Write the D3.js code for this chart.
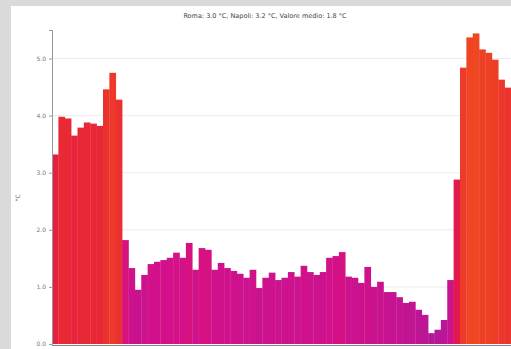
<!DOCTYPE html>
<html>
<head>
<meta charset="utf-8">
<script src="https://cdn.jsdelivr.net/npm/d3@7"></script>
<style>
  html, body { margin: 0; padding: 0; background: #dadada; }
  svg { display: block; }
</style>
</head>
<body>
<svg id="chart" width="511" height="349"></svg>
<script>
// Weekly temperature anomaly values (°C)
const weeks = d3.range(1, 73);
const values = [
  3.32, 3.98, 3.95, 3.65, 3.79, 3.88, 3.86, 3.82, 4.46, 4.75, 4.28,
  1.82, 1.33, 0.95, 1.21, 1.40, 1.44, 1.47, 1.51, 1.60, 1.51, 1.77,
  1.30, 1.68, 1.65, 1.30, 1.42, 1.33, 1.28, 1.23, 1.16, 1.30, 0.98,
  1.16, 1.25, 1.12, 1.16, 1.26, 1.18, 1.37, 1.26, 1.21, 1.26, 1.51,
  1.54, 1.61, 1.18, 1.16, 1.07, 1.35, 1.00, 1.09, 0.91, 0.91, 0.82,
  0.72, 0.74, 0.60, 0.51, 0.19, 0.25, 0.42, 1.12, 2.88,
  4.84, 5.37, 5.44, 5.16, 5.10, 4.98, 4.63, 4.49
];
const yTicks = [0, 1, 2, 3, 4, 5];
const titleText = "Roma: 3.0 °C, Napoli: 3.2 °C, Valore medio: 1.8 °C";
const yLabel = "°C";

const svg = d3.select("#chart");
const W = 511, H = 349;

// white panel
svg.append("rect").attr("x", 11).attr("y", 6).attr("width", W - 11).attr("height", H - 6).attr("fill", "#ffffff");

const margin = { left: 52, top: 30, right: 0, bottom: 5 };
const x = d3.scaleBand().domain(weeks).range([margin.left, W]).padding(0);
const y = d3.scaleLinear().domain([0, 5.5]).range([344, margin.top]);

const color = d3.scaleLinear()
  .domain([0, 1.5, 3, 4, 5.5])
  .range(["#b0189c", "#d4108a", "#e41a48", "#e92a34", "#ee4820"])
  .interpolate(d3.interpolateRgb)
  .clamp(true);

// gridlines
svg.append("g").selectAll("line").data(yTicks.slice(1)).join("line")
  .attr("x1", margin.left).attr("x2", W)
  .attr("y1", d => y(d)).attr("y2", d => y(d))
  .attr("stroke", "#ececec").attr("stroke-width", 1);

// bars
svg.append("g").selectAll("rect").data(values).join("rect")
  .attr("x", (d, i) => x(weeks[i]))
  .attr("width", x.bandwidth() + 0.3)
  .attr("y", d => y(d))
  .attr("height", d => y(0) - y(d))
  .attr("fill", d => color(d));

// y axis
const yAxis = d3.axisLeft(y).tickValues(yTicks).tickFormat(d3.format(".1f")).tickSize(3).tickPadding(3);
const gy = svg.append("g").attr("transform", `translate(${margin.left},0)`).call(yAxis);
gy.select(".domain").attr("stroke", "#9a9a9a");
gy.selectAll(".tick line").attr("stroke", "#9a9a9a");
gy.selectAll(".tick text").attr("fill", "#777").attr("font-size", 6).attr("font-family", "DejaVu Sans, sans-serif");

// x baseline
svg.append("line").attr("x1", margin.left).attr("x2", W)
  .attr("y1", y(0) + 1.5).attr("y2", y(0) + 1.5)
  .attr("stroke", "#8a7f92").attr("stroke-width", 1);

// title
svg.append("text").attr("x", 265).attr("y", 18).attr("text-anchor", "middle")
  .attr("font-size", 6.5).attr("font-family", "DejaVu Sans, sans-serif").attr("fill", "#444")
  .text(titleText);

// y label
svg.append("text").attr("transform", "translate(20,198) rotate(-90)").attr("text-anchor", "middle")
  .attr("font-size", 6).attr("font-family", "DejaVu Sans, sans-serif").attr("fill", "#555")
  .text(yLabel);
</script>
</body>
</html>
